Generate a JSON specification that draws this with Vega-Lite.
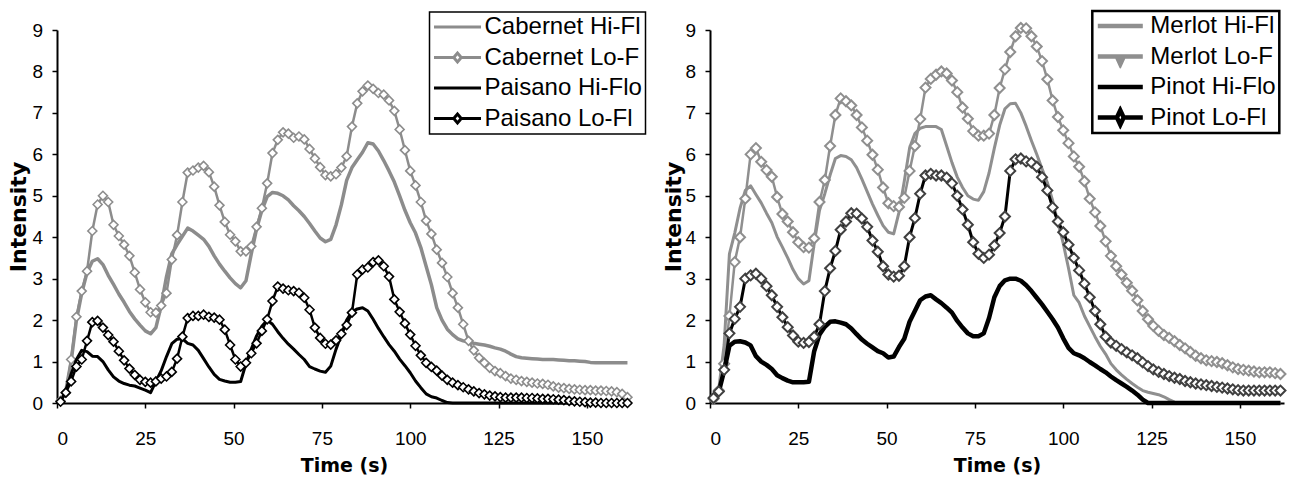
{
"$schema": "https://vega.github.io/schema/vega-lite/v6.json",
"padding": {"left": 7, "top": 9, "right": 2, "bottom": 0},
"background": "white",
"bounds": "flush",
"spacing": 79,
"resolve": {"scale": {"color": "independent", "stroke": "independent"}, "legend": {"color": "independent"}},
"config": {
  "view": {"stroke": null},
  "axis": {"grid": false, "domainColor": "black", "domainWidth": 2, "tickColor": "black", "tickWidth": 1.5, "tickSize": 5, "labelColor": "black", "labelFont": "Liberation Sans", "labelFontSize": 19, "titleColor": "black", "titleFont": "DejaVu Sans", "titleFontWeight": "bold"},
  "axisX": {"labelPadding": 21.5, "titleFontSize": 19, "titleBaseline": "alphabetic", "titleY": 68},
  "axisY": {"labelPadding": 9.5, "titleFontSize": 22, "titleBaseline": "middle", "titleAngle": -90}
},
"datasets": {"wines": [
{"t":1,"CabHi":0.05,"CabLo":0.05,"PaiHi":0.02,"PaiLo":0.03,"MerHi":0.1,"MerLo":0.1,"PinHi":0.07,"PinLo":0.12},
{"t":2.5,"CabHi":0.3,"CabLo":0.25,"PaiHi":0.3,"PaiLo":0.25,"MerHi":0.35,"MerLo":0.3,"PinHi":0.27,"PinLo":0.28},
{"t":4,"CabHi":1.0,"CabLo":1.05,"PaiHi":0.7,"PaiLo":0.52,"MerHi":1.4,"MerLo":0.95,"PinHi":0.78,"PinLo":0.8},
{"t":5.5,"CabHi":2.0,"CabLo":2.08,"PaiHi":1.05,"PaiLo":0.88,"MerHi":3.6,"MerLo":2.1,"PinHi":1.38,"PinLo":1.68},
{"t":7,"CabHi":2.65,"CabLo":2.7,"PaiHi":1.27,"PaiLo":1.05,"MerHi":4.1,"MerLo":3.4,"PinHi":1.48,"PinLo":2.03},
{"t":8.5,"CabHi":3.15,"CabLo":3.18,"PaiHi":1.24,"PaiLo":1.5,"MerHi":4.7,"MerLo":4.0,"PinHi":1.49,"PinLo":2.32},
{"t":10,"CabHi":3.42,"CabLo":4.15,"PaiHi":1.13,"PaiLo":1.95,"MerHi":5.13,"MerLo":4.93,"PinHi":1.46,"PinLo":3.0},
{"t":11.5,"CabHi":3.48,"CabLo":4.79,"PaiHi":1.12,"PaiLo":1.98,"MerHi":5.24,"MerLo":6.0,"PinHi":1.39,"PinLo":3.08},
{"t":13,"CabHi":3.34,"CabLo":5.0,"PaiHi":1.0,"PaiLo":1.82,"MerHi":5.03,"MerLo":6.15,"PinHi":1.13,"PinLo":3.12},
{"t":14.5,"CabHi":3.08,"CabLo":4.85,"PaiHi":0.8,"PaiLo":1.64,"MerHi":4.83,"MerLo":5.82,"PinHi":1.0,"PinLo":3.0},
{"t":16,"CabHi":2.86,"CabLo":4.3,"PaiHi":0.63,"PaiLo":1.48,"MerHi":4.58,"MerLo":5.62,"PinHi":0.92,"PinLo":2.82},
{"t":17.5,"CabHi":2.63,"CabLo":4.03,"PaiHi":0.53,"PaiLo":1.25,"MerHi":4.35,"MerLo":5.46,"PinHi":0.82,"PinLo":2.6},
{"t":19,"CabHi":2.43,"CabLo":3.82,"PaiHi":0.47,"PaiLo":1.03,"MerHi":4.01,"MerLo":4.97,"PinHi":0.67,"PinLo":2.32},
{"t":20.5,"CabHi":2.21,"CabLo":3.55,"PaiHi":0.43,"PaiLo":0.83,"MerHi":3.76,"MerLo":4.56,"PinHi":0.6,"PinLo":2.07},
{"t":22,"CabHi":2.03,"CabLo":3.15,"PaiHi":0.41,"PaiLo":0.68,"MerHi":3.5,"MerLo":4.38,"PinHi":0.54,"PinLo":1.83},
{"t":23.5,"CabHi":1.88,"CabLo":2.74,"PaiHi":0.36,"PaiLo":0.56,"MerHi":3.22,"MerLo":4.12,"PinHi":0.5,"PinLo":1.63},
{"t":25,"CabHi":1.74,"CabLo":2.43,"PaiHi":0.31,"PaiLo":0.51,"MerHi":3.0,"MerLo":3.88,"PinHi":0.5,"PinLo":1.48},
{"t":26.5,"CabHi":1.67,"CabLo":2.19,"PaiHi":0.25,"PaiLo":0.49,"MerHi":2.87,"MerLo":3.76,"PinHi":0.5,"PinLo":1.45},
{"t":28,"CabHi":1.82,"CabLo":2.18,"PaiHi":0.52,"PaiLo":0.52,"MerHi":2.95,"MerLo":3.75,"PinHi":0.51,"PinLo":1.47},
{"t":29.5,"CabHi":2.35,"CabLo":2.35,"PaiHi":0.78,"PaiLo":0.59,"MerHi":3.85,"MerLo":3.97,"PinHi":1.25,"PinLo":1.6},
{"t":31,"CabHi":3.05,"CabLo":2.65,"PaiHi":1.12,"PaiLo":0.64,"MerHi":4.65,"MerLo":4.85,"PinHi":1.65,"PinLo":1.9},
{"t":32.5,"CabHi":3.6,"CabLo":3.46,"PaiHi":1.43,"PaiLo":0.75,"MerHi":5.05,"MerLo":5.38,"PinHi":1.84,"PinLo":2.7},
{"t":34,"CabHi":3.82,"CabLo":4.05,"PaiHi":1.54,"PaiLo":1.07,"MerHi":5.5,"MerLo":6.2,"PinHi":1.96,"PinLo":3.25},
{"t":35.5,"CabHi":4.02,"CabLo":4.85,"PaiHi":1.55,"PaiLo":1.6,"MerHi":5.9,"MerLo":6.95,"PinHi":1.97,"PinLo":3.67},
{"t":37,"CabHi":4.22,"CabLo":5.56,"PaiHi":1.44,"PaiLo":2.05,"MerHi":5.97,"MerLo":7.35,"PinHi":1.94,"PinLo":4.18},
{"t":38.5,"CabHi":4.15,"CabLo":5.61,"PaiHi":1.4,"PaiLo":2.1,"MerHi":5.95,"MerLo":7.28,"PinHi":1.9,"PinLo":4.38},
{"t":40,"CabHi":4.05,"CabLo":5.68,"PaiHi":1.27,"PaiLo":2.1,"MerHi":5.87,"MerLo":7.18,"PinHi":1.8,"PinLo":4.58},
{"t":41.5,"CabHi":3.95,"CabLo":5.72,"PaiHi":1.07,"PaiLo":2.13,"MerHi":5.68,"MerLo":6.95,"PinHi":1.66,"PinLo":4.57},
{"t":43,"CabHi":3.78,"CabLo":5.57,"PaiHi":0.87,"PaiLo":2.08,"MerHi":5.4,"MerLo":6.65,"PinHi":1.53,"PinLo":4.45},
{"t":44.5,"CabHi":3.55,"CabLo":5.22,"PaiHi":0.69,"PaiLo":2.06,"MerHi":5.1,"MerLo":6.33,"PinHi":1.43,"PinLo":4.25},
{"t":46,"CabHi":3.35,"CabLo":4.77,"PaiHi":0.57,"PaiLo":2.01,"MerHi":4.8,"MerLo":5.99,"PinHi":1.34,"PinLo":3.92},
{"t":47.5,"CabHi":3.18,"CabLo":4.37,"PaiHi":0.53,"PaiLo":1.77,"MerHi":4.53,"MerLo":5.63,"PinHi":1.25,"PinLo":3.65},
{"t":49,"CabHi":3.02,"CabLo":4.06,"PaiHi":0.5,"PaiLo":1.4,"MerHi":4.28,"MerLo":5.2,"PinHi":1.2,"PinLo":3.3},
{"t":50.5,"CabHi":2.88,"CabLo":3.9,"PaiHi":0.5,"PaiLo":1.05,"MerHi":4.12,"MerLo":4.82,"PinHi":1.1,"PinLo":3.1},
{"t":52,"CabHi":2.78,"CabLo":3.66,"PaiHi":0.52,"PaiLo":0.88,"MerHi":4.08,"MerLo":4.75,"PinHi":1.12,"PinLo":3.05},
{"t":53.5,"CabHi":2.95,"CabLo":3.66,"PaiHi":0.95,"PaiLo":0.97,"MerHi":4.6,"MerLo":4.73,"PinHi":1.35,"PinLo":3.07},
{"t":55,"CabHi":3.6,"CabLo":3.78,"PaiHi":1.3,"PaiLo":1.2,"MerHi":5.35,"MerLo":4.95,"PinHi":1.55,"PinLo":3.3},
{"t":56.5,"CabHi":4.2,"CabLo":4.25,"PaiHi":1.62,"PaiLo":1.44,"MerHi":6.15,"MerLo":5.6,"PinHi":1.96,"PinLo":4.0},
{"t":58,"CabHi":4.65,"CabLo":4.7,"PaiHi":1.85,"PaiLo":1.74,"MerHi":6.5,"MerLo":6.2,"PinHi":2.22,"PinLo":4.46},
{"t":59.5,"CabHi":4.98,"CabLo":5.3,"PaiHi":2.0,"PaiLo":2.02,"MerHi":6.63,"MerLo":6.85,"PinHi":2.48,"PinLo":5.05},
{"t":61,"CabHi":5.08,"CabLo":6.03,"PaiHi":1.9,"PaiLo":2.46,"MerHi":6.67,"MerLo":7.61,"PinHi":2.57,"PinLo":5.49},
{"t":62.5,"CabHi":5.06,"CabLo":6.35,"PaiHi":1.72,"PaiLo":2.81,"MerHi":6.67,"MerLo":7.82,"PinHi":2.6,"PinLo":5.53},
{"t":64,"CabHi":5.0,"CabLo":6.53,"PaiHi":1.56,"PaiLo":2.76,"MerHi":6.67,"MerLo":7.92,"PinHi":2.5,"PinLo":5.49},
{"t":65.5,"CabHi":4.9,"CabLo":6.5,"PaiHi":1.42,"PaiLo":2.72,"MerHi":6.6,"MerLo":8.0,"PinHi":2.41,"PinLo":5.49},
{"t":67,"CabHi":4.76,"CabLo":6.4,"PaiHi":1.3,"PaiLo":2.7,"MerHi":6.2,"MerLo":7.95,"PinHi":2.3,"PinLo":5.44},
{"t":68.5,"CabHi":4.64,"CabLo":6.43,"PaiHi":1.17,"PaiLo":2.66,"MerHi":5.8,"MerLo":7.78,"PinHi":2.18,"PinLo":5.3},
{"t":70,"CabHi":4.5,"CabLo":6.36,"PaiHi":1.05,"PaiLo":2.54,"MerHi":5.45,"MerLo":7.5,"PinHi":1.98,"PinLo":5.0},
{"t":71.5,"CabHi":4.33,"CabLo":6.13,"PaiHi":0.88,"PaiLo":2.25,"MerHi":5.2,"MerLo":7.13,"PinHi":1.82,"PinLo":4.67},
{"t":73,"CabHi":4.15,"CabLo":5.9,"PaiHi":0.82,"PaiLo":1.82,"MerHi":5.0,"MerLo":6.86,"PinHi":1.68,"PinLo":4.3},
{"t":74.5,"CabHi":3.98,"CabLo":5.69,"PaiHi":0.77,"PaiLo":1.57,"MerHi":4.92,"MerLo":6.56,"PinHi":1.61,"PinLo":3.88},
{"t":76,"CabHi":3.89,"CabLo":5.5,"PaiHi":0.74,"PaiLo":1.43,"MerHi":4.89,"MerLo":6.45,"PinHi":1.61,"PinLo":3.6},
{"t":77.5,"CabHi":3.95,"CabLo":5.47,"PaiHi":0.89,"PaiLo":1.41,"MerHi":5.1,"MerLo":6.45,"PinHi":1.68,"PinLo":3.5},
{"t":79,"CabHi":4.3,"CabLo":5.52,"PaiHi":1.3,"PaiLo":1.51,"MerHi":5.55,"MerLo":6.5,"PinHi":2.05,"PinLo":3.58},
{"t":80.5,"CabHi":4.78,"CabLo":5.68,"PaiHi":1.65,"PaiLo":1.67,"MerHi":6.15,"MerLo":6.95,"PinHi":2.55,"PinLo":3.8},
{"t":82,"CabHi":5.37,"CabLo":5.95,"PaiHi":2.0,"PaiLo":1.88,"MerHi":6.7,"MerLo":7.6,"PinHi":2.82,"PinLo":4.1},
{"t":83.5,"CabHi":5.68,"CabLo":6.67,"PaiHi":2.2,"PaiLo":2.18,"MerHi":7.1,"MerLo":8.05,"PinHi":2.96,"PinLo":4.5},
{"t":85,"CabHi":5.87,"CabLo":7.23,"PaiHi":2.27,"PaiLo":3.1,"MerHi":7.22,"MerLo":8.47,"PinHi":3.0,"PinLo":5.6},
{"t":86.5,"CabHi":6.05,"CabLo":7.52,"PaiHi":2.3,"PaiLo":3.22,"MerHi":7.23,"MerLo":8.85,"PinHi":3.0,"PinLo":5.88},
{"t":88,"CabHi":6.28,"CabLo":7.66,"PaiHi":2.22,"PaiLo":3.27,"MerHi":7.0,"MerLo":9.05,"PinHi":2.95,"PinLo":5.9},
{"t":89.5,"CabHi":6.25,"CabLo":7.58,"PaiHi":2.02,"PaiLo":3.4,"MerHi":6.68,"MerLo":9.04,"PinHi":2.84,"PinLo":5.83},
{"t":91,"CabHi":6.08,"CabLo":7.48,"PaiHi":1.8,"PaiLo":3.44,"MerHi":6.33,"MerLo":8.85,"PinHi":2.7,"PinLo":5.8},
{"t":92.5,"CabHi":5.85,"CabLo":7.44,"PaiHi":1.6,"PaiLo":3.3,"MerHi":6.0,"MerLo":8.6,"PinHi":2.54,"PinLo":5.7},
{"t":94,"CabHi":5.6,"CabLo":7.3,"PaiHi":1.41,"PaiLo":3.05,"MerHi":5.65,"MerLo":8.25,"PinHi":2.38,"PinLo":5.45},
{"t":95.5,"CabHi":5.33,"CabLo":7.05,"PaiHi":1.25,"PaiLo":2.5,"MerHi":5.32,"MerLo":7.81,"PinHi":2.2,"PinLo":5.13},
{"t":97,"CabHi":5.0,"CabLo":6.6,"PaiHi":1.06,"PaiLo":2.2,"MerHi":4.88,"MerLo":7.3,"PinHi":2.02,"PinLo":4.72},
{"t":98.5,"CabHi":4.65,"CabLo":6.1,"PaiHi":0.9,"PaiLo":1.92,"MerHi":4.35,"MerLo":6.9,"PinHi":1.82,"PinLo":4.38},
{"t":100,"CabHi":4.35,"CabLo":5.6,"PaiHi":0.73,"PaiLo":1.65,"MerHi":3.85,"MerLo":6.58,"PinHi":1.56,"PinLo":4.12},
{"t":101.5,"CabHi":4.1,"CabLo":5.25,"PaiHi":0.53,"PaiLo":1.38,"MerHi":3.25,"MerLo":6.27,"PinHi":1.33,"PinLo":3.82},
{"t":103,"CabHi":3.75,"CabLo":4.85,"PaiHi":0.37,"PaiLo":1.15,"MerHi":2.6,"MerLo":5.95,"PinHi":1.2,"PinLo":3.5},
{"t":104.5,"CabHi":3.3,"CabLo":4.4,"PaiHi":0.22,"PaiLo":0.97,"MerHi":2.42,"MerLo":5.7,"PinHi":1.15,"PinLo":3.2},
{"t":106,"CabHi":2.85,"CabLo":4.08,"PaiHi":0.15,"PaiLo":0.87,"MerHi":2.1,"MerLo":5.35,"PinHi":1.08,"PinLo":2.88},
{"t":107.5,"CabHi":2.3,"CabLo":3.7,"PaiHi":0.12,"PaiLo":0.78,"MerHi":1.85,"MerLo":4.93,"PinHi":0.99,"PinLo":2.55},
{"t":109,"CabHi":2.0,"CabLo":3.38,"PaiHi":0.06,"PaiLo":0.66,"MerHi":1.6,"MerLo":4.6,"PinHi":0.91,"PinLo":2.22},
{"t":110.5,"CabHi":1.78,"CabLo":3.04,"PaiHi":0.01,"PaiLo":0.56,"MerHi":1.37,"MerLo":4.27,"PinHi":0.82,"PinLo":1.9},
{"t":112,"CabHi":1.65,"CabLo":2.65,"PaiHi":0,"PaiLo":0.49,"MerHi":1.18,"MerLo":3.9,"PinHi":0.74,"PinLo":1.6},
{"t":113.5,"CabHi":1.55,"CabLo":2.3,"PaiHi":0,"PaiLo":0.43,"MerHi":0.95,"MerLo":3.55,"PinHi":0.64,"PinLo":1.46},
{"t":115,"CabHi":1.5,"CabLo":1.9,"PaiHi":0,"PaiLo":0.38,"MerHi":0.8,"MerLo":3.3,"PinHi":0.55,"PinLo":1.38},
{"t":116.5,"CabHi":1.47,"CabLo":1.5,"PaiHi":0,"PaiLo":0.33,"MerHi":0.68,"MerLo":3.1,"PinHi":0.47,"PinLo":1.3},
{"t":118,"CabHi":1.44,"CabLo":1.27,"PaiHi":0,"PaiLo":0.28,"MerHi":0.57,"MerLo":2.9,"PinHi":0.39,"PinLo":1.22},
{"t":119.5,"CabHi":1.42,"CabLo":1.09,"PaiHi":0,"PaiLo":0.24,"MerHi":0.47,"MerLo":2.71,"PinHi":0.3,"PinLo":1.15},
{"t":121,"CabHi":1.4,"CabLo":0.97,"PaiHi":0,"PaiLo":0.21,"MerHi":0.38,"MerLo":2.48,"PinHi":0.2,"PinLo":1.08},
{"t":122.5,"CabHi":1.37,"CabLo":0.85,"PaiHi":0,"PaiLo":0.18,"MerHi":0.3,"MerLo":2.22,"PinHi":0.08,"PinLo":0.98},
{"t":124,"CabHi":1.33,"CabLo":0.77,"PaiHi":0,"PaiLo":0.16,"MerHi":0.26,"MerLo":2.02,"PinHi":0,"PinLo":0.89},
{"t":125.5,"CabHi":1.3,"CabLo":0.72,"PaiHi":0,"PaiLo":0.14,"MerHi":0.23,"MerLo":1.86,"PinHi":0,"PinLo":0.81},
{"t":127,"CabHi":1.25,"CabLo":0.65,"PaiHi":0,"PaiLo":0.13,"MerHi":0.2,"MerLo":1.74,"PinHi":0,"PinLo":0.75},
{"t":128.5,"CabHi":1.18,"CabLo":0.59,"PaiHi":0,"PaiLo":0.13,"MerHi":0.15,"MerLo":1.64,"PinHi":0,"PinLo":0.7},
{"t":130,"CabHi":1.12,"CabLo":0.56,"PaiHi":0,"PaiLo":0.13,"MerHi":0.08,"MerLo":1.57,"PinHi":0,"PinLo":0.65},
{"t":131.5,"CabHi":1.09,"CabLo":0.53,"PaiHi":0,"PaiLo":0.13,"MerHi":0.02,"MerLo":1.49,"PinHi":0,"PinLo":0.61},
{"t":133,"CabHi":1.08,"CabLo":0.51,"PaiHi":0,"PaiLo":0.12,"MerHi":0,"MerLo":1.4,"PinHi":0,"PinLo":0.58},
{"t":134.5,"CabHi":1.07,"CabLo":0.49,"PaiHi":0,"PaiLo":0.12,"MerHi":0,"MerLo":1.32,"PinHi":0,"PinLo":0.53},
{"t":136,"CabHi":1.06,"CabLo":0.47,"PaiHi":0,"PaiLo":0.11,"MerHi":0,"MerLo":1.23,"PinHi":0,"PinLo":0.5},
{"t":137.5,"CabHi":1.05,"CabLo":0.46,"PaiHi":0,"PaiLo":0.1,"MerHi":0,"MerLo":1.14,"PinHi":0,"PinLo":0.47},
{"t":139,"CabHi":1.05,"CabLo":0.44,"PaiHi":0,"PaiLo":0.1,"MerHi":0,"MerLo":1.08,"PinHi":0,"PinLo":0.45},
{"t":140.5,"CabHi":1.05,"CabLo":0.4,"PaiHi":0,"PaiLo":0.09,"MerHi":0,"MerLo":1.03,"PinHi":0,"PinLo":0.43},
{"t":142,"CabHi":1.04,"CabLo":0.37,"PaiHi":0,"PaiLo":0.08,"MerHi":0,"MerLo":1.01,"PinHi":0,"PinLo":0.41},
{"t":143.5,"CabHi":1.03,"CabLo":0.36,"PaiHi":0,"PaiLo":0.07,"MerHi":0,"MerLo":0.99,"PinHi":0,"PinLo":0.39},
{"t":145,"CabHi":1.02,"CabLo":0.34,"PaiHi":0,"PaiLo":0.05,"MerHi":0,"MerLo":0.96,"PinHi":0,"PinLo":0.37},
{"t":146.5,"CabHi":1.02,"CabLo":0.33,"PaiHi":0,"PaiLo":0.04,"MerHi":0,"MerLo":0.91,"PinHi":0,"PinLo":0.35},
{"t":148,"CabHi":1.01,"CabLo":0.32,"PaiHi":0,"PaiLo":0.03,"MerHi":0,"MerLo":0.86,"PinHi":0,"PinLo":0.33},
{"t":149.5,"CabHi":1.0,"CabLo":0.31,"PaiHi":0,"PaiLo":0.02,"MerHi":0,"MerLo":0.82,"PinHi":0,"PinLo":0.31},
{"t":151,"CabHi":0.98,"CabLo":0.31,"PaiHi":0,"PaiLo":0.01,"MerHi":0,"MerLo":0.8,"PinHi":0,"PinLo":0.3},
{"t":152.5,"CabHi":0.97,"CabLo":0.3,"PaiHi":0,"PaiLo":0.01,"MerHi":0,"MerLo":0.78,"PinHi":0,"PinLo":0.3},
{"t":154,"CabHi":0.97,"CabLo":0.3,"PaiHi":0,"PaiLo":0,"MerHi":0,"MerLo":0.76,"PinHi":0,"PinLo":0.3},
{"t":155.5,"CabHi":0.97,"CabLo":0.29,"PaiHi":0,"PaiLo":0,"MerHi":0,"MerLo":0.74,"PinHi":0,"PinLo":0.3},
{"t":157,"CabHi":0.97,"CabLo":0.28,"PaiHi":0,"PaiLo":0,"MerHi":0,"MerLo":0.74,"PinHi":0,"PinLo":0.3},
{"t":158.5,"CabHi":0.97,"CabLo":0.26,"PaiHi":0,"PaiLo":0,"MerHi":0,"MerLo":0.74,"PinHi":0,"PinLo":0.3},
{"t":160,"CabHi":0.97,"CabLo":0.22,"PaiHi":0,"PaiLo":0,"MerHi":0,"MerLo":0.72,"PinHi":0,"PinLo":0.3},
{"t":161.5,"CabHi":0.97,"CabLo":0.14,"PaiHi":0,"PaiLo":0,"MerHi":0,"MerLo":0.7,"PinHi":0,"PinLo":0.3}
]},
"hconcat": [
{
  "width": 574, "height": 373,
  "data": {"name": "wines"},
  "transform": [{"fold": ["CabHi", "CabLo", "PaiHi", "PaiLo"], "as": ["series", "value"]}],
  "encoding": {
    "x": {"field": "t", "type": "quantitative", "scale": {"domain": [0, 162.5], "nice": false, "zero": false}, "axis": {"values": [0, 25, 50, 75, 100, 125, 150], "title": "Time (s)"}},
    "y": {"field": "value", "type": "quantitative", "scale": {"domain": [0, 9], "nice": false}, "axis": {"values": [0, 1, 2, 3, 4, 5, 6, 7, 8, 9], "title": "Intensity", "titleX": -39}},
    "color": {"field": "series", "type": "nominal",
      "scale": {"domain": ["CabHi", "CabLo", "PaiHi", "PaiLo"], "range": ["#8c8c8c", "#8c8c8c", "#000000", "#000000"]},
      "legend": {"orient": "none", "legendX": 372.5, "legendY": -18, "title": null, "direction": "vertical",
        "padding": 3, "strokeColor": "black", "fillColor": "white", "cornerRadius": 0,
        "symbolType": "stroke", "symbolSize": 2209, "symbolStrokeWidth": 3, "symbolOffset": 0,
        "clipHeight": 24, "rowPadding": 6.5,
        "labelFont": "Liberation Sans", "labelFontSize": 24, "labelColor": "black", "labelOffset": 2, "labelLimit": 158,
        "labelExpr": "datum.label == 'CabHi' ? 'Cabernet Hi-Flow' : datum.label == 'CabLo' ? 'Cabernet Lo-Flow' : datum.label == 'PaiHi' ? 'Paisano Hi-Flow' : 'Paisano Lo-Flow'",
        "encode": {
          "legend": {"update": {"strokeWidth": {"value": 1.5}}},
          "labels": {"update": {"ellipsis": {"value": "\u200b"}}},
          "symbols": {"enter": {"strokeWidth": {"value": 3}}, "update": {"shape": {"signal": "datum.value == 'CabLo' || datum.value == 'PaiLo' ? 'M-1,0H-0.16M0.16,0H1M-0.16,0L0,-0.19L0.16,0L0,0.19Z' : 'stroke'"}, "fill": {"value": "white"}, "strokeWidth": {"value": 3}}}
        }
      }
    }
  },
  "layer": [
    {"transform": [{"filter": "datum.series == 'CabHi'"}], "mark": {"type": "line", "strokeWidth": 3.5, "strokeJoin": "round"}},
    {"transform": [{"filter": "datum.series == 'CabLo'"}], "mark": {"type": "line", "strokeWidth": 2.5, "strokeJoin": "round"}},
    {"transform": [{"filter": "datum.series == 'CabLo'"}], "mark": {"type": "point", "shape": "diamond", "filled": false, "fill": "white", "size": 80, "strokeWidth": 1.6, "opacity": 1}},
    {"transform": [{"filter": "datum.series == 'PaiHi'"}], "mark": {"type": "line", "strokeWidth": 3, "strokeJoin": "round"}},
    {"transform": [{"filter": "datum.series == 'PaiLo'"}], "mark": {"type": "line", "strokeWidth": 2.5, "strokeJoin": "round"}},
    {"transform": [{"filter": "datum.series == 'PaiLo'"}], "mark": {"type": "point", "shape": "diamond", "filled": false, "fill": "white", "size": 80, "strokeWidth": 1.6, "opacity": 1}}
  ]
},
{
  "width": 574, "height": 373,
  "data": {"name": "wines"},
  "transform": [{"fold": ["MerHi", "MerLo", "PinHi", "PinLo"], "as": ["series", "value"]}],
  "encoding": {
    "x": {"field": "t", "type": "quantitative", "scale": {"domain": [0, 162.5], "nice": false, "zero": false}, "axis": {"values": [0, 25, 50, 75, 100, 125, 150], "title": "Time (s)"}},
    "y": {"field": "value", "type": "quantitative", "scale": {"domain": [0, 9], "nice": false}, "axis": {"values": [0, 1, 2, 3, 4, 5, 6, 7, 8, 9], "title": "Intensity", "titleX": -37}},
    "color": {"field": "series", "type": "nominal",
      "scale": {"domain": ["MerHi", "MerLo", "PinHi", "PinLo"], "range": ["#8f8f8f", "#8f8f8f", "#000000", "#000000"]},
      "legend": {"orient": "none", "legendX": 382.3, "legendY": -19, "title": null, "direction": "vertical",
        "padding": 3, "strokeColor": "black", "fillColor": "white", "cornerRadius": 0,
        "symbolType": "stroke", "symbolSize": 2025, "symbolStrokeWidth": 5, "symbolOffset": 0,
        "clipHeight": 24, "rowPadding": 6.5,
        "labelFont": "Liberation Sans", "labelFontSize": 24, "labelColor": "black", "labelOffset": 5, "labelLimit": 128,
        "labelExpr": "datum.label == 'MerHi' ? 'Merlot Hi-Flow' : datum.label == 'MerLo' ? 'Merlot Lo-Flow' : datum.label == 'PinHi' ? 'Pinot Hi-Flow' : 'Pinot Lo-Flow'",
        "encode": {
          "legend": {"update": {"strokeWidth": {"value": 2.5}}},
          "labels": {"update": {"ellipsis": {"value": "\u200b"}}},
          "symbols": {"enter": {"strokeWidth": {"value": 4.5}}, "update": {"shape": {"signal": "datum.value == 'MerLo' ? 'M-1,0H1M-0.1,0.12L0.1,0.12L0,0.34Z' : datum.value == 'PinLo' ? 'M-1,0H-0.15M0.15,0H1M-0.15,0L0,-0.32L0.15,0L0,0.32Z' : 'stroke'"}, "fill": {"value": "white"}, "strokeWidth": {"value": 4.5}}}
        }
      }
    }
  },
  "layer": [
    {"transform": [{"filter": "datum.series == 'MerHi'"}], "mark": {"type": "line", "strokeWidth": 3, "strokeJoin": "round"}},
    {"transform": [{"filter": "datum.series == 'MerLo'"}], "mark": {"type": "line", "strokeWidth": 2.5, "strokeJoin": "round"}},
    {"transform": [{"filter": "datum.series == 'MerLo'"}], "mark": {"type": "point", "shape": "diamond", "filled": false, "fill": "white", "size": 100, "strokeWidth": 2, "opacity": 1}},
    {"transform": [{"filter": "datum.series == 'PinHi'"}], "mark": {"type": "line", "strokeWidth": 4.5, "strokeJoin": "round"}},
    {"transform": [{"filter": "datum.series == 'PinLo'"}], "mark": {"type": "line", "strokeWidth": 3, "strokeJoin": "round"}},
    {"transform": [{"filter": "datum.series == 'PinLo'"}], "mark": {"type": "point", "shape": "diamond", "filled": false, "fill": "white", "size": 100, "strokeWidth": 2, "opacity": 1}, "encoding": {"stroke": {"value": "#404040"}}}
  ]
}
]
}
